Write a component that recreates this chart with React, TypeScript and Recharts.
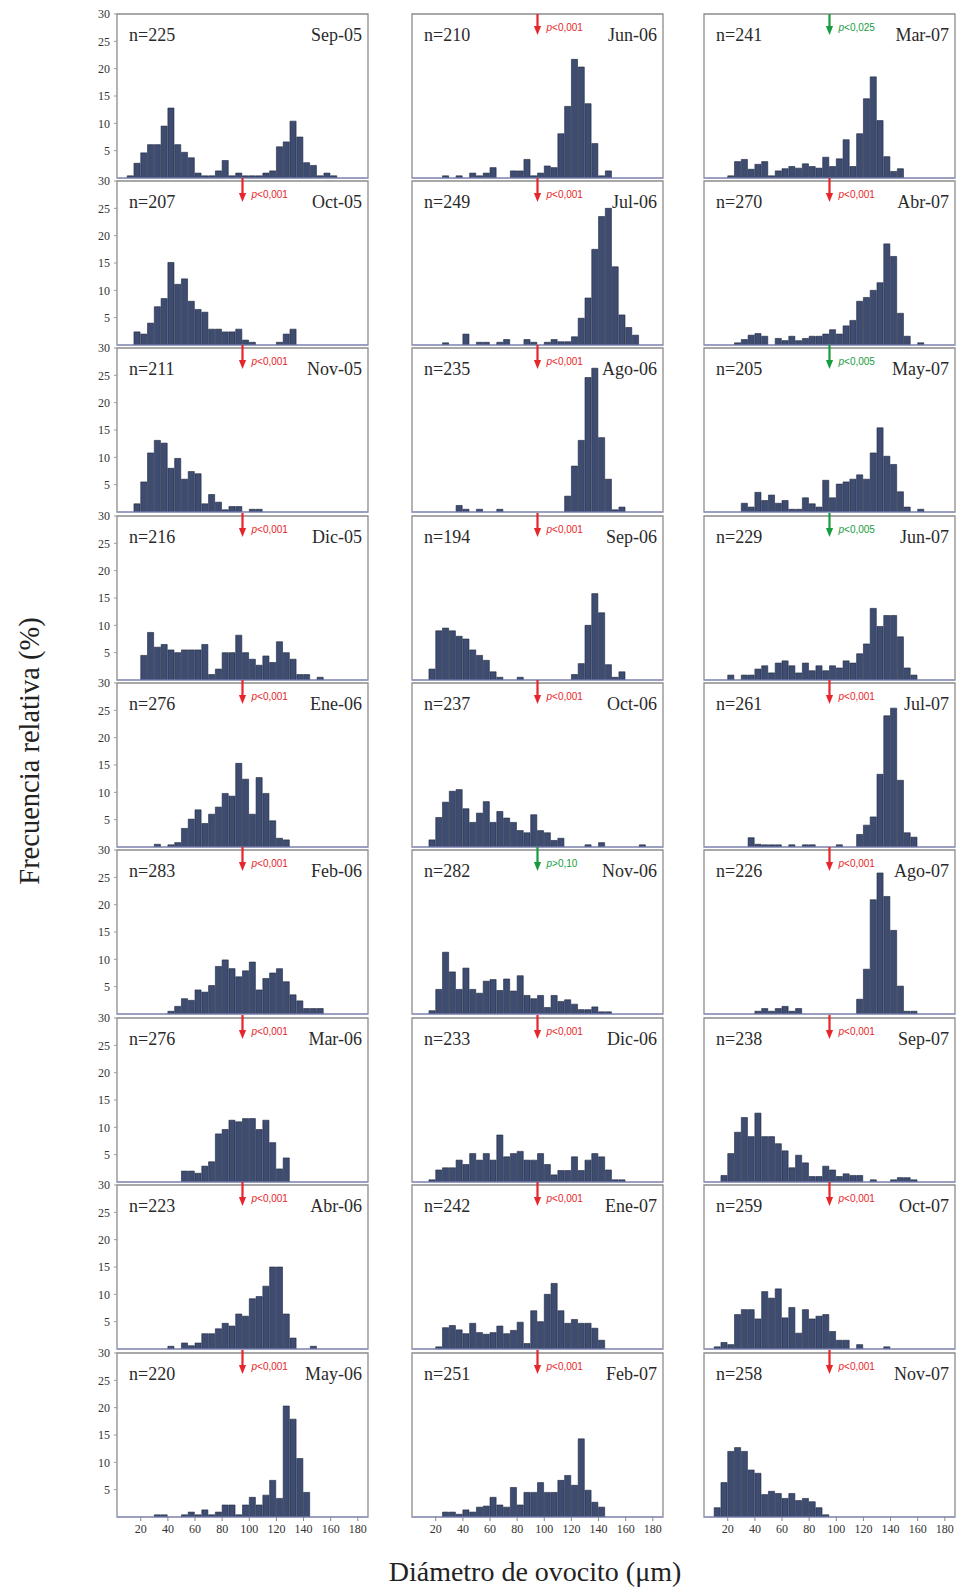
import React from "react";
import {
  BarChart,
  Bar,
  XAxis,
  YAxis,
  ReferenceArea,
  ReferenceLine,
  ReferenceDot,
} from "recharts";

// 5 µm size classes, centre of each class
const binCenters = [
  12.5, 17.5, 22.5, 27.5, 32.5, 37.5, 42.5, 47.5, 52.5, 57.5, 62.5, 67.5, 72.5, 77.5, 82.5, 87.5, 92.5, 97.5,
  102.5, 107.5, 112.5, 117.5, 122.5, 127.5, 132.5, 137.5, 142.5, 147.5, 152.5, 157.5, 162.5, 167.5, 172.5, 177.5, 182.5,
];
const xTicks = [20, 40, 60, 80, 100, 120, 140, 160, 180];
const topTicks = [10, 20, 30, 40, 50, 60, 70, 80, 90, 100, 110, 120, 130, 140, 150, 160, 170, 180];
const yTicks = [5, 10, 15, 20, 25, 30];

// relative frequency (%) per class, one array per month
const sep05 = [0.4, 2.7, 4.6, 6.1, 6.1, 9.5, 12.8, 6.1, 4.7, 3.7, 0.9, 0.4, 0.4, 1.3, 3.2, 0.4, 0.9, 0.4, 0.4, 0.4, 0.9, 1.3, 5.7, 6.6, 10.4, 7.5, 2.8, 2.3, 0.4, 0.9, 0.4, 0, 0, 0, 0];
const oct05 = [0, 2.4, 2.0, 4.0, 7.0, 8.5, 15.1, 11.1, 12.1, 8.0, 6.5, 6.0, 2.9, 2.9, 2.4, 2.4, 2.9, 0.9, 0.5, 0, 0, 0, 0.5, 2.0, 2.9, 0, 0, 0, 0, 0, 0, 0, 0, 0, 0];
const nov05 = [0, 1.5, 5.5, 10.8, 13.1, 12.6, 8.0, 9.8, 6.0, 7.4, 7.0, 1.5, 3.2, 1.8, 0.4, 1.0, 1.0, 0, 0.5, 0.5, 0, 0, 0, 0, 0, 0, 0, 0, 0, 0, 0, 0, 0, 0, 0];
const dic05 = [0, 0, 4.5, 8.7, 6.0, 6.5, 5.5, 5.0, 5.5, 5.5, 5.5, 6.5, 1.0, 2.0, 5.0, 5.0, 8.2, 5.0, 3.8, 2.7, 4.4, 3.2, 7.0, 5.0, 3.8, 1.0, 1.0, 0, 0.5, 0, 0, 0, 0, 0, 0];
const ene06 = [0, 0, 0, 0, 0.5, 0, 0.4, 0.8, 3.4, 5.1, 6.8, 4.3, 6.0, 7.3, 9.8, 9.3, 15.3, 12.4, 6.0, 12.7, 9.8, 4.8, 1.6, 1.3, 0, 0, 0, 0, 0, 0, 0, 0, 0, 0, 0];
const feb06 = [0, 0, 0, 0, 0, 0, 0.5, 1.4, 2.8, 2.5, 4.4, 4.0, 5.2, 8.7, 9.9, 8.3, 6.8, 7.9, 9.5, 4.4, 6.5, 7.5, 8.3, 5.9, 3.5, 2.4, 1.0, 1.0, 1.0, 0, 0, 0, 0, 0, 0];
const mar06 = [0, 0, 0, 0, 0, 0, 0, 0, 2.0, 2.0, 1.6, 2.9, 3.7, 8.8, 9.6, 11.3, 11.0, 11.6, 11.6, 9.6, 11.3, 7.2, 2.4, 4.4, 0, 0, 0, 0, 0, 0, 0, 0, 0, 0, 0];
const abr06 = [0, 0, 0, 0, 0, 0, 0.5, 0, 1.1, 0.6, 1.1, 2.8, 2.8, 3.7, 4.7, 4.2, 6.4, 6.0, 9.2, 9.6, 11.5, 15.0, 15.0, 6.4, 2.0, 0, 0, 0.5, 0, 0, 0, 0, 0, 0, 0];
const may06 = [0, 0, 0, 0, 0.4, 0.4, 0, 0, 0.4, 0.9, 0.4, 1.3, 0.4, 0.9, 2.2, 2.2, 0.4, 2.2, 3.6, 2.2, 4.0, 6.7, 3.4, 20.3, 17.9, 10.7, 4.5, 0, 0, 0, 0, 0, 0, 0, 0];
const jun06 = [0, 0, 0, 0.4, 0, 0.4, 0, 0.9, 0.4, 0.9, 1.9, 0, 0, 1.3, 1.3, 3.4, 0.4, 0.9, 2.2, 1.9, 8.1, 13.1, 21.7, 20.3, 13.6, 6.3, 0.4, 1.3, 0, 0, 0, 0, 0, 0, 0];
const jul06 = [0, 0, 0, 0.4, 0, 0, 2.0, 0, 0.5, 0.5, 0, 0.5, 1.0, 0, 0, 1.0, 0.5, 0, 0.5, 1.0, 0.6, 0.6, 1.5, 4.9, 8.6, 17.5, 23.5, 25.0, 14.3, 5.5, 3.2, 1.8, 0, 0, 0];
const ago06 = [0, 0, 0, 0, 0, 1.2, 0.5, 0, 0.5, 0, 0, 0.5, 0, 0, 0, 0, 0, 0, 0, 0, 0, 2.9, 8.4, 13.1, 24.6, 26.3, 13.6, 6.0, 0.4, 0.9, 0, 0, 0, 0, 0];
const sep06 = [0, 2.0, 9.0, 9.5, 9.0, 8.0, 7.5, 5.5, 4.5, 3.6, 1.5, 0.5, 0, 0, 0.5, 0, 0, 0, 0, 0, 0, 0, 1.0, 3.0, 10.0, 15.8, 12.3, 2.8, 0.5, 1.5, 0, 0, 0, 0, 0];
const oct06 = [0, 1.3, 5.4, 8.2, 10.2, 10.5, 7.0, 4.5, 6.2, 8.3, 4.5, 6.5, 5.3, 4.5, 3.0, 2.6, 5.9, 3.0, 2.6, 1.2, 1.6, 0, 0, 0, 0.4, 0, 0.8, 0, 0, 0, 0, 0, 0.4, 0, 0];
const nov06 = [0, 0.6, 4.5, 11.3, 7.7, 4.5, 8.4, 4.5, 3.8, 6.0, 6.3, 4.3, 6.4, 4.2, 7.0, 3.4, 2.8, 3.4, 1.2, 3.4, 2.3, 2.6, 1.8, 0.8, 0.8, 1.3, 0.4, 0.4, 0, 0, 0, 0, 0, 0, 0];
const dic06 = [0, 0.4, 2.2, 2.6, 2.6, 4.0, 3.2, 5.2, 4.0, 5.2, 4.0, 8.6, 4.6, 5.2, 5.6, 4.0, 4.0, 5.2, 3.2, 1.3, 2.1, 2.1, 4.6, 2.1, 4.0, 5.2, 4.6, 2.2, 0.4, 0.4, 0, 0, 0, 0, 0];
const ene07 = [0, 0, 0.4, 3.9, 4.3, 3.5, 2.8, 4.7, 3.0, 2.7, 3.0, 4.2, 2.8, 3.4, 4.9, 1.0, 7.0, 5.0, 10.0, 12.0, 7.0, 4.7, 5.4, 4.7, 4.7, 3.8, 1.6, 0, 0, 0, 0, 0, 0, 0, 0];
const feb07 = [0, 0, 0, 0.9, 0.9, 0.5, 1.3, 0.9, 1.8, 2.0, 3.6, 2.2, 1.8, 5.4, 2.2, 4.5, 4.5, 6.3, 4.5, 4.5, 6.7, 7.6, 5.8, 14.3, 4.9, 2.7, 1.8, 0, 0, 0, 0, 0, 0, 0, 0];
const mar07 = [0, 0, 0.4, 3.0, 3.4, 1.6, 2.5, 3.0, 0.4, 1.3, 1.7, 2.1, 1.8, 2.6, 2.1, 1.8, 3.8, 2.1, 3.5, 7.0, 2.1, 8.1, 14.5, 18.5, 10.5, 3.9, 1.2, 1.7, 0, 0, 0, 0, 0, 0, 0];
const abr07 = [0, 0, 0, 0.4, 1.0, 1.8, 2.1, 1.6, 0, 1.2, 0.8, 1.6, 0.8, 1.2, 1.6, 1.6, 2.0, 2.8, 2.0, 3.5, 4.5, 8.0, 8.7, 10.0, 11.4, 18.5, 16.2, 5.8, 1.6, 0, 0.4, 0, 0, 0, 0];
const may07 = [0, 0, 0, 0, 1.6, 0.9, 3.6, 2.1, 3.1, 1.6, 2.1, 0.5, 0.5, 2.6, 1.5, 0.9, 5.8, 2.6, 5.1, 5.5, 6.0, 6.8, 6.0, 10.8, 15.4, 10.2, 8.7, 3.7, 0.9, 0, 0.5, 0, 0, 0, 0];
const jun07 = [0, 0, 0.9, 0, 0.9, 0.9, 2.0, 2.6, 1.3, 3.1, 3.5, 2.6, 1.3, 3.1, 1.7, 2.6, 1.7, 2.6, 2.2, 3.5, 3.1, 4.8, 6.6, 13.1, 9.8, 11.8, 11.8, 7.9, 2.2, 0.9, 0, 0, 0, 0, 0];
const jul07 = [0, 0, 0, 0, 0, 1.7, 0.5, 0.4, 0.4, 0.4, 0, 0.4, 0, 0.4, 0.4, 0, 0, 0, 0.4, 0, 0, 2.3, 4.0, 5.5, 13.3, 24.0, 25.4, 12.2, 2.6, 1.8, 0, 0, 0, 0, 0];
const ago07 = [0, 0, 0, 0, 0, 0, 0.5, 1.0, 0.5, 1.0, 1.4, 0.5, 1.0, 0, 0, 0, 0, 0, 0, 0, 0, 2.7, 8.2, 20.9, 25.8, 21.5, 15.3, 5.1, 0.5, 0.5, 0, 0, 0, 0, 0];
const sep07 = [0, 1.2, 5.2, 9.1, 11.8, 8.3, 12.6, 8.3, 8.3, 7.0, 5.7, 2.6, 4.9, 3.5, 1.0, 1.0, 2.9, 2.2, 1.0, 1.5, 1.2, 1.2, 0, 0.4, 0, 0, 0.4, 0.8, 0.8, 0.4, 0, 0, 0, 0, 0];
const oct07 = [0.4, 1.2, 0.8, 6.3, 7.2, 7.2, 5.5, 10.5, 9.3, 11.0, 5.7, 7.6, 2.9, 7.2, 5.5, 6.0, 6.3, 3.2, 1.6, 1.6, 0, 0.8, 0, 0, 0, 0.4, 0, 0, 0, 0, 0, 0, 0, 0, 0];
const nov07 = [1.7, 6.3, 12.0, 12.7, 12.0, 8.6, 8.0, 4.1, 4.7, 4.3, 3.4, 4.3, 3.0, 3.4, 2.8, 1.7, 0.4, 0, 0, 0, 0, 0, 0, 0, 0, 0, 0, 0, 0, 0, 0, 0, 0, 0, 0];

const months = [
  "Sep-05", "Oct-05", "Nov-05", "Dic-05", "Ene-06", "Feb-06", "Mar-06", "Abr-06", "May-06",
  "Jun-06", "Jul-06", "Ago-06", "Sep-06", "Oct-06", "Nov-06", "Dic-06", "Ene-07", "Feb-07",
  "Mar-07", "Abr-07", "May-07", "Jun-07", "Jul-07", "Ago-07", "Sep-07", "Oct-07", "Nov-07",
];
const sampleSizes = [225, 207, 211, 216, 276, 283, 276, 223, 220, 210, 249, 235, 194, 237, 282, 233, 242, 251, 241, 270, 205, 229, 261, 226, 238, 259, 258];
const pLabels = [
  "", "<0,001", "<0,001", "<0,001", "<0,001", "<0,001", "<0,001", "<0,001", "<0,001",
  "<0,001", "<0,001", "<0,001", "<0,001", "<0,001", ">0,10", "<0,001", "<0,001", "<0,001",
  "<0,025", "<0,001", "<0,005", "<0,005", "<0,001", "<0,001", "<0,001", "<0,001", "<0,001",
];
const greenTests = ["Nov-06", "Mar-07", "May-07", "Jun-07"];
const series = [
  sep05, oct05, nov05, dic05, ene06, feb06, mar06, abr06, may06,
  jun06, jul06, ago06, sep06, oct06, nov06, dic06, ene07, feb07,
  mar07, abr07, may07, jun07, jul07, ago07, sep07, oct07, nov07,
];

const SERIF = "'Liberation Serif', 'Times New Roman', serif";
const SANS = "'Liberation Sans', Arial, sans-serif";
const RED = "#e6262a";
const GREEN = "#169c3f";

const X_DOMAIN: [number, number] = [2.5, 187.5];
const PLOT_W = 251;
const PLOT_H = 164;
const COL_LEFT = [117, 412, 704];
const ROW_TOP = [14, 181, 348, 516, 683, 850, 1018, 1185, 1353];
const Y_AXIS_W = 40;
const BAR_PX = (5 * PLOT_W) / (X_DOMAIN[1] - X_DOMAIN[0]);

function TestArrow({ cx, cy, label, color, first }: any) {
  const y0 = first ? cy : cy - 3;
  const tip = cy + 21;
  return (
    <g>
      <line x1={cx} y1={y0} x2={cx} y2={tip - 8} stroke={color} strokeWidth={2.2} />
      <path d={`M${cx - 3.6},${tip - 9} L${cx + 3.6},${tip - 9} L${cx},${tip} Z`} fill={color} />
      <text x={cx + 9} y={cy + 16.5} fill={color} fontSize={10} fontFamily={SANS}>
        <tspan fontStyle="italic">p</tspan>
        <tspan>{label}</tspan>
      </text>
    </g>
  );
}

function Panel({ idx }: { idx: number }) {
  const col = Math.floor(idx / 9);
  const row = idx % 9;
  const isBottom = row === 8;
  const isLeft = col === 0;
  const values = series[idx];
  const data = binCenters.map((x, i) => ({ x, v: values[i] }));
  const month = months[idx];
  const p = pLabels[idx];
  const color = greenTests.includes(month) ? GREEN : RED;
  const tickStyle = { fontFamily: SERIF, fontSize: 12, fill: "#333" };

  return (
    <div style={{ position: "absolute", left: COL_LEFT[col] - Y_AXIS_W, top: ROW_TOP[row] - 10 }}>
      <BarChart
        width={Y_AXIS_W + PLOT_W + 8}
        height={10 + PLOT_H + 28}
        data={data}
        margin={{ top: 10, right: 8, bottom: 0, left: 0 }}
        barCategoryGap={0}
        barGap={0}
      >
        <XAxis
          dataKey="x"
          type="number"
          domain={X_DOMAIN}
          allowDataOverflow
          ticks={xTicks}
          interval={0}
          height={28}
          axisLine={false}
          tick={isBottom ? tickStyle : false}
          tickLine={isBottom ? { stroke: "#888" } : false}
          tickSize={4}
          tickMargin={3}
        />
        <XAxis
          xAxisId="top"
          orientation="top"
          type="number"
          domain={X_DOMAIN}
          allowDataOverflow
          ticks={topTicks}
          interval={0}
          mirror
          axisLine={false}
          tick={false}
          tickLine={{ stroke: "#999" }}
          tickSize={3}
        />
        <YAxis
          type="number"
          domain={[0, 30]}
          allowDataOverflow
          ticks={yTicks}
          interval={0}
          width={Y_AXIS_W}
          axisLine={false}
          tick={isLeft ? tickStyle : false}
          tickLine={{ stroke: "#999" }}
          tickSize={3}
          tickMargin={4}
        />
        <ReferenceArea
          x1={X_DOMAIN[0]}
          x2={X_DOMAIN[1]}
          y1={0}
          y2={30}
          fill="none"
          stroke="#8c8c8c"
          strokeWidth={1.3}
          ifOverflow="visible"
        />
        <Bar
          dataKey="v"
          barSize={BAR_PX}
          fill="#3e4c72"
          stroke="#1d263b"
          strokeWidth={0.6}
          isAnimationActive={false}
        />
        <ReferenceLine y={0} stroke="#8e96d8" strokeWidth={1.2} />
        <ReferenceDot
          x={X_DOMAIN[0]}
          y={30}
          ifOverflow="visible"
          shape={(props: any) => (
            <text x={props.cx + 12} y={props.cy + 27} fontFamily={SERIF} fontSize={18} fill="#2a2a2a">
              {`n=${sampleSizes[idx]}`}
            </text>
          )}
        />
        <ReferenceDot
          x={X_DOMAIN[1]}
          y={30}
          ifOverflow="visible"
          shape={(props: any) => (
            <text x={props.cx - 6} y={props.cy + 27} fontFamily={SERIF} fontSize={18} fill="#2a2a2a" textAnchor="end">
              {month}
            </text>
          )}
        />
        {p ? (
          <ReferenceDot
            x={95}
            y={30}
            ifOverflow="visible"
            shape={(props: any) => (
              <TestArrow cx={props.cx} cy={props.cy} label={p} color={color} first={row === 0} />
            )}
          />
        ) : null}
      </BarChart>
    </div>
  );
}

export default function App() {
  return (
    <div style={{ position: "absolute", left: 0, top: 0, width: 961, height: 1592, background: "#fff" }}>
      {months.map((m, i) => (
        <Panel key={m} idx={i} />
      ))}
      <div
        style={{
          position: "absolute",
          left: 30,
          top: 751,
          transform: "translate(-50%, -50%) rotate(-90deg)",
          whiteSpace: "nowrap",
          fontFamily: SERIF,
          fontSize: 28.5,
          color: "#222",
        }}
      >
        Frecuencia relativa (%)
      </div>
      <div
        style={{
          position: "absolute",
          left: 535,
          top: 1572,
          transform: "translate(-50%, -50%)",
          whiteSpace: "nowrap",
          fontFamily: SERIF,
          fontSize: 28,
          color: "#222",
        }}
      >
        Diámetro de ovocito (μm)
      </div>
    </div>
  );
}
